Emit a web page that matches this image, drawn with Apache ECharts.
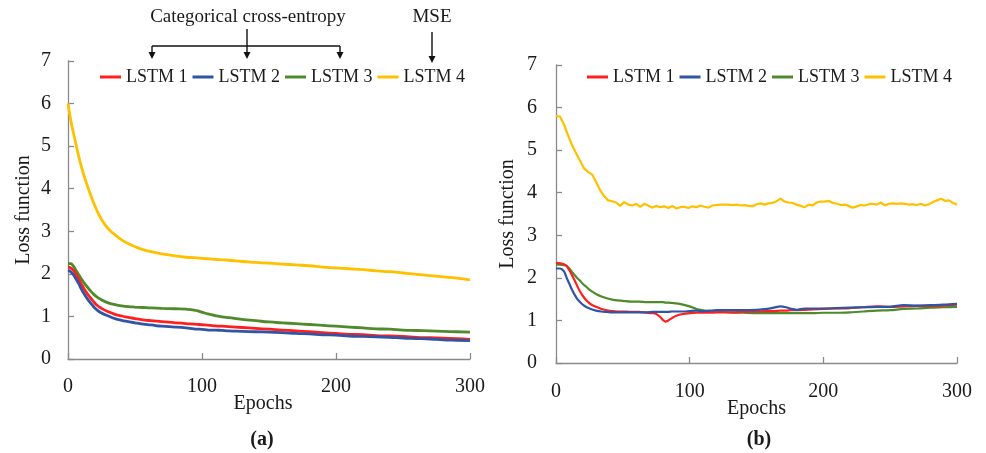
<!DOCTYPE html>
<html>
<head>
<meta charset="utf-8">
<script src="https://cdn.jsdelivr.net/npm/echarts@6/dist/echarts.min.js"></script>
<style>
  html, body { margin: 0; padding: 0; background: #fff; }
  #chart { width: 986px; height: 453px; }
</style>
</head>
<body>
<div id="chart"></div>
<script>
// ---- Panel (a): training loss, smooth curves ----
const epochsA = [0, 2, 4, 6, 8, 10, 12, 15, 18, 21, 25, 30, 35, 40, 45, 50, 56, 62, 70, 80, 88, 94, 98, 102, 106, 110, 115, 120, 130, 140, 150, 160, 170, 180, 190, 200, 210, 220, 230, 240, 250, 260, 270, 280, 290, 300];
const lstm1A = [2.16, 2.14, 2.08, 1.99, 1.88, 1.76, 1.65, 1.51, 1.39, 1.28, 1.19, 1.11, 1.05, 1.01, 0.98, 0.95, 0.92, 0.90, 0.88, 0.85, 0.83, 0.82, 0.81, 0.80, 0.79, 0.78, 0.77, 0.76, 0.74, 0.72, 0.70, 0.68, 0.66, 0.64, 0.62, 0.60, 0.58, 0.57, 0.55, 0.54, 0.53, 0.51, 0.50, 0.49, 0.48, 0.46];
const lstm2A = [2.08, 2.05, 1.98, 1.88, 1.77, 1.64, 1.53, 1.39, 1.27, 1.17, 1.08, 1.01, 0.95, 0.91, 0.88, 0.85, 0.82, 0.80, 0.77, 0.75, 0.73, 0.71, 0.70, 0.69, 0.68, 0.68, 0.67, 0.66, 0.65, 0.64, 0.63, 0.62, 0.60, 0.59, 0.57, 0.56, 0.54, 0.53, 0.52, 0.51, 0.49, 0.48, 0.47, 0.45, 0.44, 0.43];
const lstm3A = [2.24, 2.24, 2.18, 2.08, 1.98, 1.88, 1.79, 1.67, 1.56, 1.47, 1.39, 1.32, 1.28, 1.25, 1.23, 1.22, 1.21, 1.20, 1.19, 1.18, 1.17, 1.15, 1.12, 1.08, 1.05, 1.02, 0.99, 0.97, 0.93, 0.90, 0.87, 0.85, 0.83, 0.81, 0.79, 0.77, 0.75, 0.73, 0.71, 0.70, 0.68, 0.67, 0.66, 0.65, 0.64, 0.63];
const lstm4A = [6.00, 5.62, 5.32, 5.04, 4.76, 4.52, 4.30, 4.02, 3.76, 3.53, 3.28, 3.06, 2.92, 2.80, 2.71, 2.64, 2.57, 2.52, 2.47, 2.42, 2.39, 2.38, 2.37, 2.36, 2.35, 2.34, 2.33, 2.32, 2.29, 2.27, 2.25, 2.23, 2.21, 2.19, 2.16, 2.14, 2.12, 2.10, 2.07, 2.05, 2.02, 1.99, 1.96, 1.93, 1.90, 1.86];

// ---- Panel (b): noisier curves ----
const epochsB = [0, 3, 6, 8, 10, 12, 14, 16, 18, 20, 23, 26, 30, 34, 38, 42, 46, 50, 56, 62, 68, 72, 75, 78, 80, 82, 84, 87, 90, 95, 100, 105, 110, 115, 120, 130, 140, 150, 158, 163, 168, 172, 176, 180, 186, 192, 200, 210, 220, 230, 240, 250, 260, 270, 280, 290, 300];
const lstm1B = [2.35, 2.34, 2.32, 2.28, 2.18, 2.06, 1.94, 1.80, 1.68, 1.58, 1.46, 1.38, 1.32, 1.27, 1.24, 1.22, 1.21, 1.21, 1.20, 1.20, 1.18, 1.17, 1.15, 1.08, 1.01, 0.97, 1.00, 1.06, 1.11, 1.15, 1.17, 1.18, 1.18, 1.18, 1.19, 1.19, 1.20, 1.21, 1.22, 1.22, 1.23, 1.23, 1.24, 1.24, 1.25, 1.26, 1.27, 1.28, 1.29, 1.31, 1.33, 1.32, 1.33, 1.34, 1.34, 1.35, 1.37];
const lstm2B = [2.22, 2.22, 2.15, 2.00, 1.86, 1.72, 1.60, 1.50, 1.43, 1.37, 1.31, 1.27, 1.23, 1.21, 1.20, 1.19, 1.19, 1.19, 1.19, 1.19, 1.19, 1.20, 1.20, 1.20, 1.20, 1.20, 1.20, 1.21, 1.21, 1.21, 1.22, 1.23, 1.22, 1.23, 1.24, 1.24, 1.24, 1.25, 1.27, 1.30, 1.33, 1.31, 1.27, 1.25, 1.28, 1.28, 1.28, 1.29, 1.30, 1.31, 1.32, 1.32, 1.36, 1.35, 1.36, 1.37, 1.39];
const lstm3B = [2.31, 2.31, 2.30, 2.28, 2.22, 2.14, 2.06, 1.99, 1.93, 1.86, 1.78, 1.70, 1.62, 1.56, 1.52, 1.49, 1.47, 1.46, 1.44, 1.44, 1.43, 1.43, 1.43, 1.43, 1.43, 1.42, 1.42, 1.41, 1.40, 1.37, 1.33, 1.27, 1.24, 1.22, 1.21, 1.19, 1.18, 1.17, 1.17, 1.17, 1.17, 1.17, 1.17, 1.17, 1.17, 1.17, 1.18, 1.18, 1.19, 1.21, 1.23, 1.24, 1.27, 1.28, 1.30, 1.31, 1.32];
const epochsB4 = [0, 3, 6, 9, 12, 15, 18, 21, 24, 27, 30, 33, 36, 39, 42, 45, 48, 51, 54, 57, 60, 63, 66, 69, 72, 75, 78, 81, 84, 87, 90, 93, 96, 99, 102, 105, 108, 111, 114, 117, 120, 123, 126, 129, 132, 135, 138, 141, 144, 147, 150, 153, 156, 159, 162, 165, 168, 171, 174, 177, 180, 183, 186, 189, 192, 195, 198, 201, 204, 207, 210, 213, 216, 219, 222, 225, 228, 231, 234, 237, 240, 243, 246, 249, 252, 255, 258, 261, 264, 267, 270, 273, 276, 279, 282, 285, 288, 291, 294, 297, 300];
const lstm4B = [5.80, 5.79, 5.60, 5.35, 5.12, 4.93, 4.75, 4.57, 4.49, 4.43, 4.25, 4.06, 3.92, 3.82, 3.80, 3.77, 3.69, 3.78, 3.72, 3.70, 3.74, 3.67, 3.74, 3.70, 3.65, 3.69, 3.66, 3.68, 3.64, 3.69, 3.63, 3.66, 3.67, 3.64, 3.68, 3.66, 3.70, 3.67, 3.65, 3.70, 3.71, 3.72, 3.72, 3.72, 3.71, 3.72, 3.70, 3.71, 3.69, 3.68, 3.73, 3.75, 3.72, 3.75, 3.76, 3.80, 3.86, 3.79, 3.77, 3.76, 3.72, 3.69, 3.66, 3.72, 3.70, 3.77, 3.79, 3.79, 3.81, 3.76, 3.74, 3.71, 3.72, 3.69, 3.65, 3.68, 3.71, 3.70, 3.73, 3.74, 3.72, 3.77, 3.70, 3.74, 3.75, 3.74, 3.75, 3.74, 3.72, 3.73, 3.71, 3.74, 3.70, 3.73, 3.78, 3.82, 3.86, 3.81, 3.82, 3.76, 3.72];

const seriesNames = ['LSTM 1', 'LSTM 2', 'LSTM 3', 'LSTM 4'];
const seriesColors = ['#ff1f1f', '#2f55a4', '#4f8a2c', '#ffc000'];
const xTicks = { min: 0, max: 300, interval: 100 };
const yTicks = { min: 0, max: 7, interval: 1 };

const FONT = '"Liberation Serif", "Times New Roman", serif';
const AXIS_GREY = '#8a8a8a';
const TEXT = '#1a1a1a';

const pairs = (xs, ys) => xs.map((x, i) => [x, ys[i]]);

function makeX(idx, nameGap, labelMargin, namePad) {
  return {
    type: 'value', gridIndex: idx, min: xTicks.min, max: xTicks.max, interval: xTicks.interval,
    name: 'Epochs', nameLocation: 'middle', nameGap: nameGap, nameMoveOverlap: false,
    nameTextStyle: { fontFamily: FONT, fontSize: 20, color: TEXT, padding: namePad },
    axisLine: { show: true, lineStyle: { color: AXIS_GREY, width: 1.3 } },
    axisTick: { show: true, inside: true, length: 6, lineStyle: { color: AXIS_GREY, width: 1.3 } },
    axisLabel: { fontFamily: FONT, fontSize: 20, color: TEXT, margin: labelMargin },
    splitLine: { show: false }
  };
}
function makeY(idx, nameGap, labelMargin) {
  return {
    type: 'value', gridIndex: idx, min: yTicks.min, max: yTicks.max, interval: yTicks.interval,
    name: 'Loss function', nameLocation: 'middle', nameGap: nameGap, nameMoveOverlap: false,
    nameTextStyle: { fontFamily: FONT, fontSize: 20, color: TEXT },
    axisLine: { show: true, lineStyle: { color: AXIS_GREY, width: 1.3 } },
    axisTick: { show: true, inside: true, length: 6, lineStyle: { color: AXIS_GREY, width: 1.3 } },
    axisLabel: { fontFamily: FONT, fontSize: 20, color: TEXT, margin: labelMargin },
    splitLine: { show: false }
  };
}
function makeLegend(left) {
  return {
    left: left, top: 67, orient: 'horizontal', padding: 0,
    data: seriesNames, icon: 'rect', itemWidth: 21, itemHeight: 3, itemGap: 5,
    textStyle: { fontFamily: FONT, fontSize: 18, color: TEXT, lineHeight: 20 },
    selectedMode: false
  };
}
function line(name, idx, data, color, width, smooth) {
  return {
    name: name, type: 'line', xAxisIndex: idx, yAxisIndex: idx, data: data,
    showSymbol: false, smooth: smooth, lineStyle: { color: color, width: width },
    itemStyle: { color: color }, animation: false
  };
}

// Arrow annotations above panel (a)
const ink = { stroke: '#111', lineWidth: 1.4 };
function vArrow(x, y1, y2) {
  return [
    { type: 'line', shape: { x1: x, y1: y1, x2: x, y2: y2 - 6 }, style: ink },
    { type: 'polygon', shape: { points: [[x - 3.5, y2 - 7], [x + 3.5, y2 - 7], [x, y2]] }, style: { fill: '#111' } }
  ];
}

const option = {
  backgroundColor: '#fff',
  animation: false,
  grid: [
    { left: 68, top: 61, width: 402, height: 298 },
    { left: 556, top: 65, width: 401, height: 298 }
  ],
  legend: [makeLegend(100), makeLegend(587)],
  xAxis: [makeX(0, 35, 18, [0, 12, 0, 0]), makeX(1, 36, 19, 0)],
  yAxis: [makeY(0, 34, 17), makeY(1, 38, 19)],
  series: [
    line(seriesNames[3], 0, pairs(epochsA, lstm4A), seriesColors[3], 2.8, true),
    line(seriesNames[2], 0, pairs(epochsA, lstm3A), seriesColors[2], 2.8, true),
    line(seriesNames[0], 0, pairs(epochsA, lstm1A), seriesColors[0], 2.8, true),
    line(seriesNames[1], 0, pairs(epochsA, lstm2A), seriesColors[1], 2.8, true),
    line(seriesNames[3], 1, pairs(epochsB4, lstm4B), seriesColors[3], 2.2, false),
    line(seriesNames[2], 1, pairs(epochsB, lstm3B), seriesColors[2], 2.2, 0.3),
    line(seriesNames[0], 1, pairs(epochsB, lstm1B), seriesColors[0], 2.2, 0.3),
    line(seriesNames[1], 1, pairs(epochsB, lstm2B), seriesColors[1], 2.2, 0.3)
  ],
  graphic: [
    { type: 'text', x: 248, y: 17, style: { text: 'Categorical cross-entropy', font: '19px ' + FONT, fill: TEXT, align: 'center', verticalAlign: 'middle' } },
    { type: 'text', x: 432, y: 17, style: { text: 'MSE', font: '19px ' + FONT, fill: TEXT, align: 'center', verticalAlign: 'middle' } },
    { type: 'line', shape: { x1: 152, y1: 46, x2: 340, y2: 46 }, style: ink },
    ...vArrow(152, 46, 59),
    ...vArrow(340, 46, 59),
    ...vArrow(247, 29, 59),
    ...vArrow(432, 32, 63),
    { type: 'text', x: 262, y: 440, style: { text: '(a)', font: 'bold 20px ' + FONT, fill: TEXT, align: 'center', verticalAlign: 'middle' } },
    { type: 'text', x: 759, y: 440, style: { text: '(b)', font: 'bold 20px ' + FONT, fill: TEXT, align: 'center', verticalAlign: 'middle' } }
  ]
};

const chart = echarts.init(document.getElementById('chart'), null, { renderer: 'canvas' });
chart.setOption(option);
</script>
</body>
</html>
